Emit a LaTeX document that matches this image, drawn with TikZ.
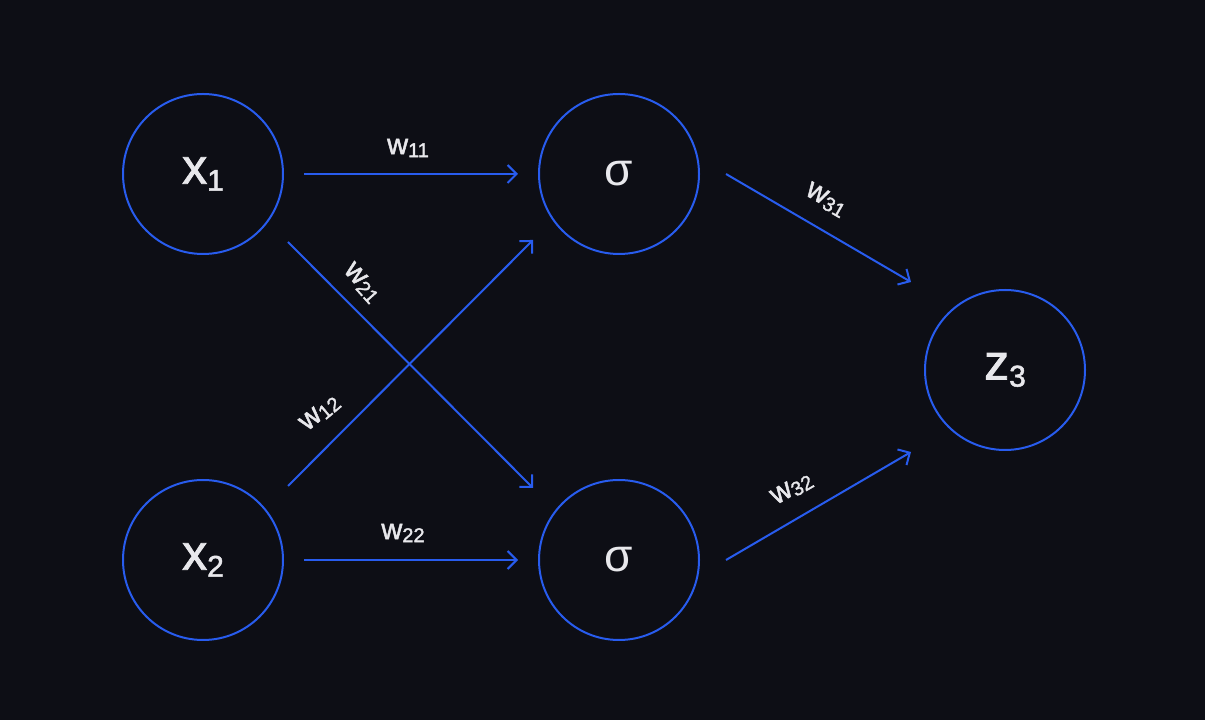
\documentclass[tikz,border=0pt]{standalone}
\usepackage{fontspec}
\setmainfont{Liberation Sans}
\newfontfamily\medfont{Liberation Sans}[FakeBold=1.6]
\usetikzlibrary{arrows.meta,calc}
\definecolor{bg}{RGB}{13,14,21}
\definecolor{nblue}{RGB}{40,92,238}
\definecolor{txt}{RGB}{232,232,236}
\newcommand{\nlab}[2]{{\medfont\fontsize{50}{50}\selectfont #1\raisebox{-7pt}{\fontsize{30}{30}\selectfont #2}}}
\newcommand{\wlab}[1]{{\medfont\fontsize{29}{29}\selectfont w\raisebox{-3pt}{\fontsize{20}{20}\selectfont #1}}}
\begin{document}
\begin{tikzpicture}[x=1pt,y=1pt,
  neuron/.style={circle,draw=nblue,line width=2pt,minimum size=160pt,inner sep=0pt,text=txt},
  conn/.style={draw=nblue,line width=2pt,-{Straight Barb[length=9pt,width=18pt,line width=2pt]}},
  wl/.style={text=txt,inner sep=0pt}]
\fill[bg] (0,0) rectangle (1205,720);
\useasboundingbox (0,0) rectangle (1205,720);
\node[neuron] (x1) at (203,546) {\nlab{x}{1}};
\node[neuron] (x2) at (203,160) {\nlab{x}{2}};
\node[neuron] (s1) at (619,546) {{\fontsize{46}{46}\selectfont σ}};
\node[neuron] (s2) at (619,160) {{\fontsize{46}{46}\selectfont σ}};
\node[neuron] (z3) at (1005,350) {\nlab{z}{3}};
\coordinate (a11s) at ($(x1)+(101,0)$);
\coordinate (a11e) at ($(s1)+(-101,0)$);
\coordinate (a22s) at ($(x2)+(101,0)$);
\coordinate (a22e) at ($(s2)+(-101,0)$);
\coordinate (a21s) at ($(x1)+(85,-68)$);
\coordinate (a21e) at ($(s2)+(-86,72)$);
\coordinate (a12s) at ($(x2)+(85,74)$);
\coordinate (a12e) at ($(s1)+(-86,-66)$);
\coordinate (a31s) at ($(s1)+(107,0)$);
\coordinate (a31e) at ($(z3)+(-94,88)$);
\coordinate (a32s) at ($(s2)+(107,0)$);
\coordinate (a32e) at ($(z3)+(-94,-82)$);
\draw[conn] (a11s) -- (a11e);
\draw[conn] (a22s) -- (a22e);
\draw[conn] (a21s) -- (a21e);
\draw[conn] (a12s) -- (a12e);
\draw[conn] (a31s) -- (a31e);
\draw[conn] (a32s) -- (a32e);
\node[wl] (w11) at (408,572) {\wlab{11}};
\node[wl] (w22) at (403,187) {\wlab{22}};
\node[wl,rotate=-48] (w21) at (362,437) {\wlab{21}};
\node[wl,rotate=40] (w12) at (320,307) {\wlab{12}};
\node[wl,rotate=-30] (w31) at (826,520) {\wlab{31}};
\node[wl,rotate=30] (w32) at (792,231) {\wlab{32}};
\end{tikzpicture}
\end{document}
